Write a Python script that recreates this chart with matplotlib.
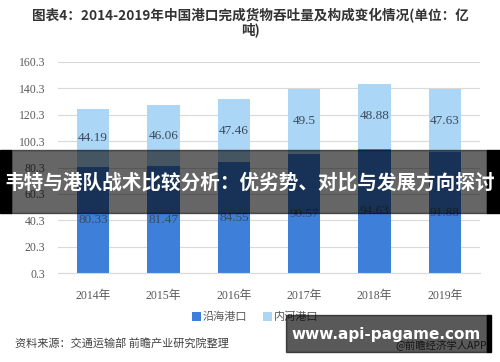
import matplotlib
matplotlib.use("Agg")
import matplotlib.pyplot as plt
from matplotlib.patches import Rectangle
import numpy as np

plt.rcParams['font.family'] = ['Noto Sans CJK SC', 'DejaVu Sans']

# data
years = ["2014年", "2015年", "2016年", "2017年", "2018年", "2019年"]
coastal = [80.33, 81.47, 84.55, 90.57, 94.63, 91.88]
inland = [44.19, 46.06, 47.46, 49.5, 48.88, 47.63]
yticks = [0.3, 20.3, 40.3, 60.3, 80.3, 100.3, 120.3, 140.3, 160.3]

c_coastal = "#3d7fd9"
c_inland = "#acd6f5"
grey = "#595959"

fig = plt.figure(figsize=(5, 3.62), dpi=100)
W, H = 500, 362

def fx(px):
    return px / W

def fy(py):
    return 1 - py / H

ax = fig.add_axes([fx(58), fy(273), fx(480) - fx(58), fy(62) - fy(273)])
x = np.arange(len(years))
ax.bar(x, coastal, width=0.46, color=c_coastal, label="沿海港口", zorder=2)
ax.bar(x, inland, width=0.46, bottom=coastal, color=c_inland, label="内河港口", zorder=2)

for i in range(len(years)):
    ax.text(x[i], coastal[i] / 2, f"{coastal[i]:g}", ha="center", va="center",
            fontsize=9.5, color="#3b4a5e", family=["Liberation Serif"], zorder=3)
    ax.text(x[i], coastal[i] + inland[i] / 2, f"{inland[i]:g}", ha="center", va="center",
            fontsize=9.5, color="#3b4a5e", family=["Liberation Serif"], zorder=3)

ax.set_xlim(-0.5, 5.5)
ax.set_ylim(0.3, 160.3)
ax.set_yticks(yticks)
ax.set_yticklabels([f"{v:.1f}" for v in yticks], family=["Liberation Serif"], fontsize=8.5, color=grey)
ax.set_xticks(x)
ax.set_xticklabels(years, family=["Liberation Serif", "Noto Sans CJK SC"], fontsize=8.5, color=grey)
ax.grid(axis="y", color="#d9d9d9", linewidth=0.8, zorder=0)
ax.tick_params(axis="y", length=0, pad=9)
ax.tick_params(axis="x", length=0, pad=12)
for s in ["top", "right", "left"]:
    ax.spines[s].set_visible(False)
ax.spines["bottom"].set_color("#d9d9d9")

# title
fig.text(fx(250), fy(16), "图表4：2014-2019年中国港口完成货物吞吐量及构成变化情况(单位：亿",
         ha="center", va="center", fontsize=9.8, fontweight="bold", color="#333333")
fig.text(fx(250), fy(30), "吨)", ha="center", va="center", fontsize=9.8,
         fontweight="bold", color="#333333")

# legend
fig.legend(loc="center", bbox_to_anchor=(fx(255), fy(317)), ncol=2, frameon=False,
           fontsize=8, handlelength=0.8, handleheight=0.8, handletextpad=0.2,
           columnspacing=1.4, labelcolor=grey)

# source
fig.text(fx(15), fy(343), "资料来源：交通运输部 前瞻产业研究院整理", ha="left", va="center",
         fontsize=8, color="#404040")
fig.text(fx(487), fy(345), "@前瞻经济学人APP", ha="right", va="center", fontsize=7.5, color="#404040")

# banner overlay
fig.patches.append(Rectangle((fx(11), fy(213)), fx(487) - fx(11), fy(150) - fy(213),
                             transform=fig.transFigure, color="black", alpha=0.6, zorder=10))
fig.patches.append(Rectangle((0, fy(213)), fx(11), fy(150) - fy(213),
                             transform=fig.transFigure, color="black", zorder=10))
fig.patches.append(Rectangle((fx(487), fy(213)), 1 - fx(487), fy(150) - fy(213),
                             transform=fig.transFigure, color="black", zorder=10))
fig.text(0.5, fy(183), "韦特与港队战术比较分析：优劣势、对比与发展方向探讨", ha="center", va="center",
         fontsize=14.1, fontweight="bold", color="white", zorder=11)

# bottom-right watermark box
fig.patches.append(Rectangle((fx(286), fy(352)), fx(487) - fx(286), fy(315) - fy(352),
                             transform=fig.transFigure, color="black", alpha=0.65, zorder=10))
fig.patches.append(Rectangle((fx(487), fy(352)), fx(491) - fx(487), fy(315) - fy(352),
                             transform=fig.transFigure, color="black", zorder=10))
fig.text(fx(386), fy(335), "www.api-pagame.com", ha="center", va="center",
         fontsize=11, fontweight="bold", color="white", family=["DejaVu Sans"], zorder=11)

fig.savefig("out.png", dpi=100)
